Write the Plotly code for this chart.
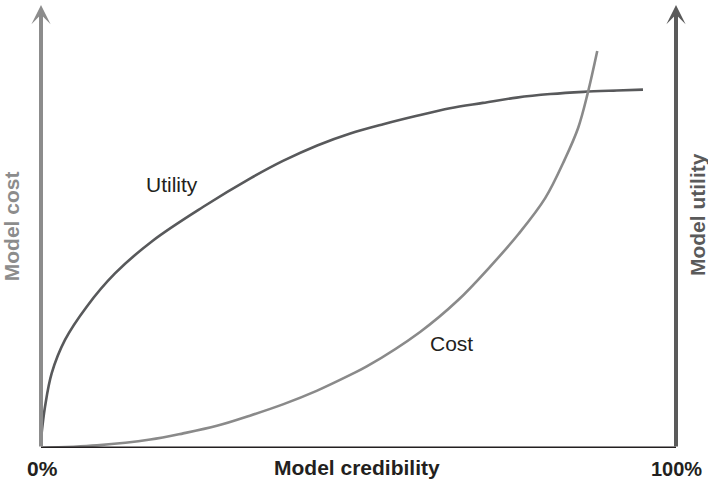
import plotly.graph_objects as go

# model credibility (%) vs relative model utility / cost
utility_x = [0, 0.63, 1.69, 3.78, 7.2, 11.65, 17.6, 25.5, 32.9, 38.1, 43.5, 48.7, 53.9,
             59.2, 64.4, 69.6, 74.9, 80.2, 85.4, 90.7, 94.8]
utility_y = [2.0, 9.3, 16.9, 24.4, 31.9, 39.4, 46.8, 54.4, 60.8, 64.8, 68.3, 71.0, 73.1,
             75.0, 76.7, 77.9, 79.1, 79.9, 80.4, 80.7, 80.9]

cost_x = [0, 8.8, 17.2, 22.4, 27.7, 32.9, 38.2, 43.4, 48.7, 51.3, 59.7, 65.7, 70.7,
          75.2, 79.4, 82.5, 84.6, 86.1, 87.6]
cost_y = [0, 0.6, 1.9, 3.3, 5.0, 7.3, 9.9, 12.9, 16.5, 18.4, 26.2, 33.4, 40.9,
          48.3, 56.4, 65.2, 72.3, 80.1, 89.6]

font_family = "Liberation Sans, Arial, sans-serif"
dark = "#231f20"

fig = go.Figure()

fig.add_trace(go.Scatter(
    x=utility_x, y=utility_y, mode="lines",
    line=dict(color="#58595b", width=2.6, shape="spline", smoothing=1.0),
    hoverinfo="skip",
))
fig.add_trace(go.Scatter(
    x=cost_x, y=cost_y, mode="lines",
    line=dict(color="#8a8a8a", width=2.6, shape="spline", smoothing=1.0),
    hoverinfo="skip",
))

# axes drawn by hand: bottom line plus two arrows
fig.add_shape(type="line", x0=0, x1=100, y0=0, y1=0, xref="x", yref="y",
              line=dict(color=dark, width=3))

annots = []
for xx, col in [(0, "#8c8c8c"), (100, "#5a5a5a")]:
    annots.append(dict(
        x=xx, y=100, ax=xx, ay=0, xref="x", yref="y", axref="x", ayref="y",
        text="", showarrow=True, arrowhead=3, arrowwidth=4, arrowsize=0.8,
        arrowcolor=col, standoff=0,
    ))

annots += [
    dict(x=20.6, y=59.4, xref="x", yref="y", text="Utility", showarrow=False,
         font=dict(size=21, color=dark)),
    dict(x=64.6, y=23.7, xref="x", yref="y", text="Cost", showarrow=False,
         font=dict(size=21, color=dark)),
    dict(x=0.0016, y=-0.047, xref="paper", yref="paper", text="<b>0%</b>", showarrow=False,
         xanchor="center", yanchor="middle", font=dict(size=21, color=dark)),
    dict(x=1.0, y=-0.047, xref="paper", yref="paper", text="<b>100%</b>", showarrow=False,
         xanchor="center", yanchor="middle", font=dict(size=20, color=dark)),
    dict(x=0.498, y=-0.045, xref="paper", yref="paper", text="<b>Model credibility</b>",
         showarrow=False, xanchor="center", yanchor="middle", font=dict(size=21, color=dark)),
    dict(x=-0.047, y=0.501, xref="paper", yref="paper", text="<b>Model cost</b>",
         showarrow=False, textangle=-90, xanchor="center", yanchor="middle",
         font=dict(size=21, color="#8c8c8c")),
    dict(x=1.033, y=0.528, xref="paper", yref="paper", text="<b>Model utility</b>",
         showarrow=False, textangle=-90, xanchor="center", yanchor="middle",
         font=dict(size=21, color="#5a5a5a")),
]

fig.update_layout(
    width=708, height=482,
    margin=dict(l=41, r=32, t=5, b=34),
    paper_bgcolor="white", plot_bgcolor="white",
    showlegend=False,
    font=dict(family=font_family),
    xaxis=dict(range=[0, 100], visible=False),
    yaxis=dict(range=[0, 100], visible=False),
    annotations=annots,
)

# drop the default page margin so the figure sits at the window's corner
fig.write_html("out.html", config={"displayModeBar": False},
               post_script="document.body.style.margin='0';")
